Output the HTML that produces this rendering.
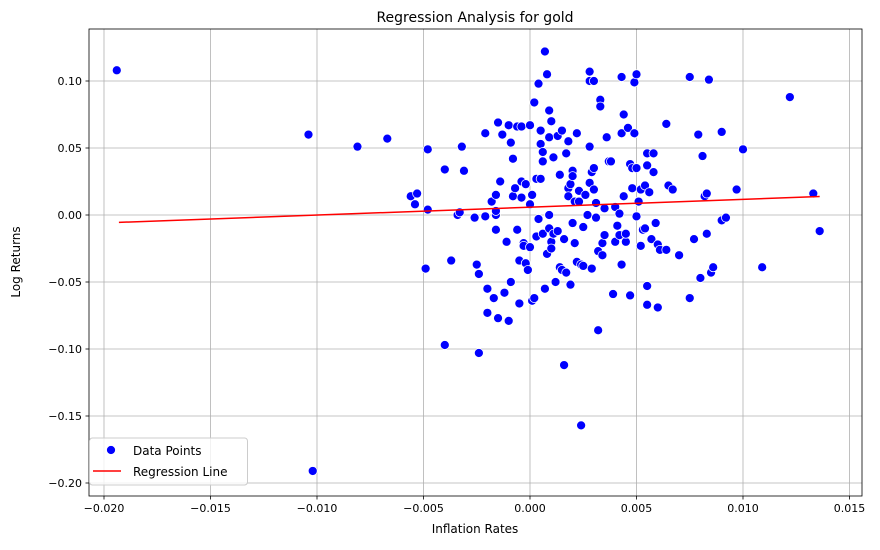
<!DOCTYPE html>
<html><head><meta charset="utf-8"><style>
body{margin:0;background:#fff;font-family:"Liberation Sans","DejaVu Sans",sans-serif}
svg text{font-family:"DejaVu Sans","Liberation Sans",sans-serif}
</style></head><body>
<svg id="chart" width="880" height="545" xmlns="http://www.w3.org/2000/svg">
<rect width="880" height="545" fill="#fff"/>
<g id="grid"></g>
<g id="pts"></g>
<g id="reg"></g>
<rect x="89" y="29" width="773" height="467" fill="none" stroke="#000" stroke-width="0.8"/>
<g id="ticks"></g>
<text x="475" y="22" text-anchor="middle" font-size="14">Regression Analysis for gold</text>
<text x="475" y="533" text-anchor="middle" font-size="12">Inflation Rates</text>
<text transform="translate(20,262) rotate(-90)" text-anchor="middle" font-size="12">Log Returns</text>
<g>
<rect x="89.5" y="438" width="158" height="47" rx="3" fill="#fff" fill-opacity="0.8" stroke="#ccc"/>
<circle cx="111" cy="450" r="4.5" fill="#0000ff" stroke="#fff" stroke-width="0.75"/>
<text x="133" y="455" font-size="12">Data Points</text>
<line x1="93" y1="471" x2="121" y2="471" stroke="#ff0000" stroke-width="1.5"/>
<text x="133" y="476" font-size="12">Regression Line</text>
</g>
</svg>
<script>
const xTicks=[-0.020,-0.015,-0.010,-0.005,0.000,0.005,0.010,0.015];
const xTickLabels=["−0.020","−0.015","−0.010","−0.005","0.000","0.005","0.010","0.015"];
const yTicks=[0.10,0.05,0.00,-0.05,-0.10,-0.15,-0.20];
const yTickLabels=["0.10","0.05","0.00","−0.05","−0.10","−0.15","−0.20"];
const regX=[-0.0193,0.0136];
const regY=[-0.0055,0.0138];
const inflation=[-0.0194,-0.0104,-0.0081,-0.0067,-0.0102,-0.0056,-0.0053,-0.0054,-0.0048,-0.0048,-0.0049,-0.0040,-0.0040,-0.0037,-0.0034,-0.0033,-0.0032,-0.0031,-0.0026,-0.0025,-0.0024,-0.0024,-0.0021,-0.0021,-0.0020,-0.0020,-0.0018,-0.0017,-0.0016,-0.0016,-0.0016,-0.0016,-0.0015,-0.0015,-0.0014,-0.0013,-0.0012,-0.0011,-0.0010,-0.0010,-0.0009,-0.0009,-0.0008,-0.0008,-0.0007,-0.0006,-0.0006,-0.0005,-0.0005,-0.0004,-0.0004,-0.0004,-0.0003,-0.0003,-0.0002,-0.0002,-0.0001,0.0000,0.0000,0.0000,0.0001,0.0001,0.0002,0.0002,0.0003,0.0003,0.0004,0.0004,0.0005,0.0005,0.0005,0.0006,0.0006,0.0006,0.0007,0.0007,0.0008,0.0008,0.0009,0.0009,0.0009,0.0009,0.0010,0.0010,0.0010,0.0011,0.0011,0.0012,0.0013,0.0013,0.0014,0.0014,0.0015,0.0015,0.0016,0.0016,0.0017,0.0017,0.0018,0.0018,0.0018,0.0019,0.0019,0.0020,0.0020,0.0020,0.0021,0.0021,0.0022,0.0022,0.0023,0.0023,0.0024,0.0024,0.0025,0.0025,0.0026,0.0027,0.0028,0.0028,0.0028,0.0028,0.0029,0.0029,0.0030,0.0030,0.0030,0.0031,0.0031,0.0032,0.0032,0.0033,0.0033,0.0034,0.0034,0.0035,0.0035,0.0036,0.0037,0.0038,0.0039,0.0040,0.0040,0.0041,0.0042,0.0042,0.0043,0.0043,0.0043,0.0044,0.0044,0.0045,0.0045,0.0046,0.0047,0.0047,0.0048,0.0048,0.0049,0.0049,0.0050,0.0050,0.0050,0.0051,0.0052,0.0052,0.0053,0.0054,0.0054,0.0055,0.0055,0.0055,0.0055,0.0056,0.0057,0.0058,0.0058,0.0059,0.0060,0.0060,0.0061,0.0064,0.0064,0.0065,0.0067,0.0070,0.0075,0.0075,0.0077,0.0079,0.0080,0.0081,0.0082,0.0083,0.0083,0.0084,0.0085,0.0086,0.0090,0.0090,0.0092,0.0097,0.0100,0.0109,0.0122,0.0133,0.0136];
const logReturns=[0.108,0.060,0.051,0.057,-0.191,0.014,0.016,0.008,0.004,0.049,-0.040,0.034,-0.097,-0.034,0.000,0.002,0.051,0.033,-0.002,-0.037,-0.044,-0.103,0.061,-0.001,-0.055,-0.073,0.010,-0.062,0.000,0.003,0.015,-0.011,0.069,-0.077,0.025,0.060,-0.058,-0.020,0.067,-0.079,-0.050,0.054,0.042,0.014,0.020,0.066,-0.011,-0.066,-0.034,0.025,0.013,0.066,-0.021,-0.023,0.023,-0.036,-0.041,0.067,-0.024,0.008,-0.064,0.015,-0.062,0.084,0.027,-0.016,0.098,-0.003,0.063,0.053,0.027,0.040,0.047,-0.014,0.122,-0.055,0.105,-0.029,0.058,-0.010,0.000,0.078,0.070,-0.020,-0.025,0.043,-0.014,-0.050,-0.012,0.059,-0.039,0.030,0.063,-0.041,-0.018,-0.112,0.046,-0.043,0.020,0.055,0.014,-0.052,0.023,0.033,0.029,-0.006,-0.021,0.010,0.061,-0.035,0.018,0.010,-0.157,-0.037,-0.038,-0.009,0.015,0.000,0.107,0.100,0.051,0.024,-0.040,0.032,0.100,0.019,0.035,-0.002,0.009,-0.086,-0.027,0.086,0.081,-0.021,-0.030,-0.015,0.005,0.058,0.040,0.040,-0.059,-0.020,0.006,-0.008,-0.015,0.001,0.103,0.061,-0.037,0.075,0.014,-0.020,-0.014,0.065,0.038,-0.060,0.035,0.020,0.099,0.061,0.105,0.035,-0.001,0.010,-0.023,0.019,-0.011,-0.010,0.022,0.037,0.046,-0.067,-0.053,0.017,-0.018,0.046,0.032,-0.006,-0.022,-0.069,-0.026,0.068,-0.026,0.022,0.019,-0.030,0.103,-0.062,-0.018,0.060,-0.047,0.044,0.014,0.016,-0.014,0.101,-0.043,-0.039,0.062,-0.004,-0.002,0.019,0.049,-0.039,0.088,0.016,-0.012];

const X0=530,XS=21300,Y0=215,YS=1340;
const sx=v=>X0+v*XS, sy=v=>Y0-v*YS;
const NS="http://www.w3.org/2000/svg";
function mk(tag,attrs,parent){const e=document.createElementNS(NS,tag);for(const k in attrs)e.setAttribute(k,attrs[k]);parent.appendChild(e);return e;}
const grid=document.getElementById('grid'),ticks=document.getElementById('ticks');
xTicks.forEach((t,i)=>{const x=sx(t);
 const g=mk('line',{x1:x,x2:x,y1:29,y2:496,stroke:'#b0b0b0','stroke-width':0.8},grid);
 
 
 const tk=mk('line',{x1:x,x2:x,y1:496,y2:499.5,stroke:'#000','stroke-width':0.8},ticks);
 
 
 const tl=mk('text',{x:x,y:512,'text-anchor':'middle','font-size':11},ticks);tl.textContent=xTickLabels[i];
 
 
});
yTicks.forEach((t,i)=>{const y=sy(t);
 const g=mk('line',{x1:89,x2:862,y1:y,y2:y,stroke:'#b0b0b0','stroke-width':0.8},grid);
 
 
 const tk=mk('line',{x1:85.5,x2:89,y1:y,y2:y,stroke:'#000','stroke-width':0.8},ticks);
 
 
 const tl=mk('text',{x:82,y:y+4,'text-anchor':'end','font-size':11},ticks);tl.textContent=yTickLabels[i];
 
 
});
const pts=document.getElementById('pts');
inflation.forEach((v,i)=>{
 const c=mk('circle',{cx:sx(v),cy:sy(logReturns[i]),r:4.5,fill:'#0000ff',stroke:'#fff','stroke-width':0.75},pts);
 
 
});
const l=mk('line',{x1:sx(regX[0]),y1:sy(regY[0]),x2:sx(regX[1]),y2:sy(regY[1]),stroke:'#ff0000','stroke-width':1.5},document.getElementById('reg'));


</script>
</body></html>
